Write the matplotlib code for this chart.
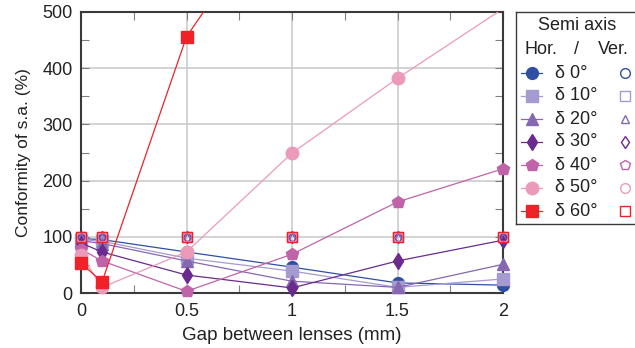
import numpy as np
import matplotlib
matplotlib.use('Agg')
import matplotlib.pyplot as plt
from matplotlib.ticker import MultipleLocator

plt.rcParams['font.family'] = ['Liberation Sans', 'DejaVu Sans']
plt.rcParams['font.size'] = 13

# data
gap = [0, 0.1, 0.5, 1, 1.5, 2]
labels = ['δ 0°', 'δ 10°', 'δ 20°', 'δ 30°', 'δ 40°', 'δ 50°', 'δ 60°']
hor = [
    [97, 95, 73, 46, 18, 14],
    [95, 92, 62, 39, 10, 25],
    [93, 88, 57, 21, 10, 51],
    [89, 73, 32, 9, 57, 94],
    [78, 57, 3, 69, 162, 221],
    [68, 10, 73, 249, 382, 506],
    [53, 20, 456, 730, 1000, 1300],
]
ver = [
    [99, 99, 99, 99, 99, 99],
    [99, 99, 99, 99, 99, 99],
    [99, 99, 99, 99, 99, 99],
    [99, 99, 99, 99, 99, 99],
    [99, 99, 99, 99, 99, 99],
    [99, 99, 99, 99, 99, 99],
    [99, 99, 99, 99, 99, 99],
]
colors = ['#2f4fa2', '#a59bd0', '#8668b2', '#6b2a8e', '#c163a9', '#eb9bb9', '#ee2227']
markers = ['o', 's', '^', 'd', 'p', 'o', 's']
msize = [8.5, 8.5, 8.5, 8, 9, 9, 8.5]
vsize = [7, 7, 6, 6, 7, 7, 7]

dark = '#3a3a3a'
txt = '#222222'
ymax = 500

fig = plt.figure(figsize=(6.35, 3.48), dpi=100)
ax = fig.add_axes([81 / 635, 55 / 348, 422 / 635, 281 / 348])

for i in range(len(labels)):
    ax.plot(gap, hor[i], color=colors[i], lw=0.9, zorder=3 + i * 0.1)
    # markers are not clipped at the frame, but points off the top are hidden
    xs = [g for g, v in zip(gap, hor[i]) if v <= ymax]
    ys = [v for v in hor[i] if v <= ymax]
    ax.plot(xs, ys, ls='none', marker=markers[i], ms=msize[i],
            mec=colors[i], mfc=colors[i], zorder=3 + i * 0.1 + 0.05,
            clip_on=False)
for i in range(len(labels)):
    ax.plot(gap, ver[i], ls='none', marker=markers[i], ms=vsize[i],
            mec=colors[i], mfc='none', mew=1.0, zorder=5 + i * 0.1,
            clip_on=False)

ax.set_xlim(0, 2)
ax.set_ylim(0, ymax)
ax.xaxis.set_major_locator(MultipleLocator(0.5))
ax.xaxis.set_minor_locator(MultipleLocator(0.25))
ax.yaxis.set_major_locator(MultipleLocator(100))
ax.yaxis.set_minor_locator(MultipleLocator(50))
ax.set_xticks([0, 0.5, 1, 1.5, 2])
ax.set_xticklabels(['0', '0.5', '1', '1.5', '2'])
ax.grid(True, which='major', color='#c8c8c8', lw=1.1, zorder=0)
ax.tick_params(which='both', direction='in', top=True, right=True,
               color='#808080', labelcolor=txt, labelsize=13)
ax.tick_params(which='major', length=6, width=0.8)
ax.tick_params(axis='x', which='major', pad=7)
ax.tick_params(axis='y', which='major', pad=6)
ax.tick_params(which='minor', length=6, width=0.8)
for s in ax.spines.values():
    s.set_color(dark)
    s.set_linewidth(1.5)
ax.set_xlabel('Gap between lenses (mm)', color=txt, fontsize=13.5, labelpad=5)
ax.set_ylabel('Conformity of s.a. (%)', color=txt, fontsize=12.5, labelpad=8)

# legend box drawn in pixel coords
lg = fig.add_axes([516 / 635, (348 - 224) / 348, 130 / 635, 212 / 348])
lg.set_xlim(0, 130)
lg.set_ylim(224, 12)
lg.set_xticks([])
lg.set_yticks([])
for s in lg.spines.values():
    s.set_color(dark)
    s.set_linewidth(1.0)
lg.text(61, 25, 'Semi axis', ha='center', va='center', color=txt)
lg.text(8, 50, 'Hor.', ha='left', va='center', color=txt)
lg.text(61, 50, '/', ha='center', va='center', color=txt)
lg.text(113, 50, 'Ver.', ha='right', va='center', color=txt)
rows = [73, 96, 119, 142, 165, 188, 211]
for i in range(len(labels)):
    y = rows[i]
    lg.plot([5, 26], [y, y], color=colors[i], lw=0.9)
    lg.plot([16], [y], marker=markers[i], ms=msize[i], color=colors[i])
    lg.text(39, y, labels[i], ha='left', va='center', color=txt)
    lg.plot([109], [y], marker=markers[i], ms=vsize[i], mfc='none',
            mec=colors[i], mew=1.0)

fig.savefig('out.png', dpi=100)
